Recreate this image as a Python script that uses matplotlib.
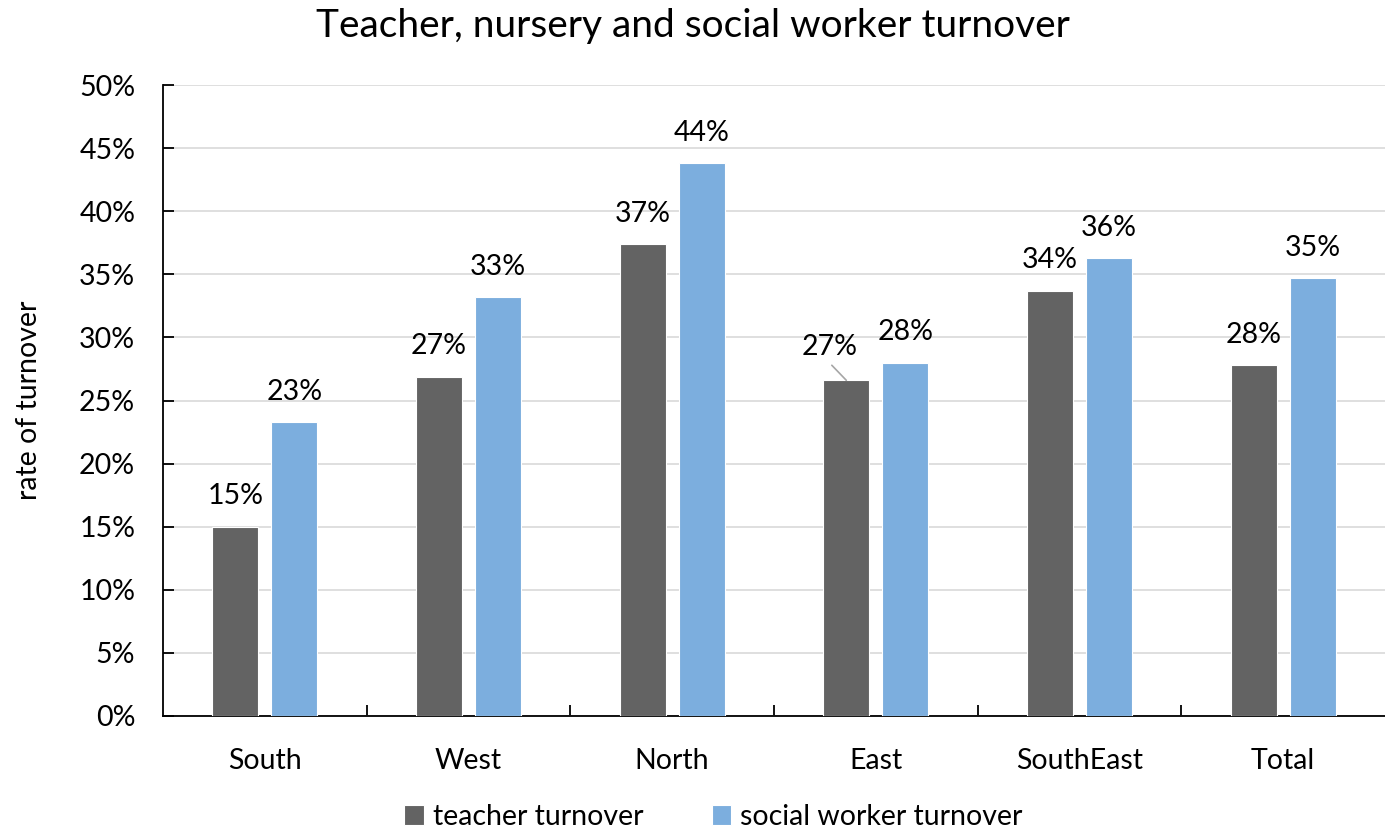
import matplotlib
matplotlib.use("Agg")
import matplotlib.pyplot as plt
import numpy as np
from matplotlib.ticker import FuncFormatter, MultipleLocator, FixedLocator

plt.rcParams['font.family'] = ['Lato', 'DejaVu Sans']

regions = ["South", "West", "North", "East", "SouthEast", "Total"]
teacher = [15.0, 26.9, 37.4, 26.6, 33.7, 27.8]
social = [23.3, 33.2, 43.8, 28.0, 36.3, 34.7]
series_names = ["teacher turnover", "social worker turnover"]
colors = ["#636363", "#7caede"]

FS = 20.5

fig = plt.figure(figsize=(13.85, 8.33), dpi=100)
ax = fig.add_axes([163 / 1385, 1 - 716 / 833, (1385 - 163) / 1385, (716 - 85) / 833])

x = np.arange(len(regions))
w = 0.226
off = 0.145
b1 = ax.bar(x - off, teacher, w, color=colors[0], edgecolor="white", linewidth=0.8,
            label=series_names[0], zorder=3)
b2 = ax.bar(x + off, social, w, color=colors[1], edgecolor="white", linewidth=0.8,
            label=series_names[1], zorder=3)

ax.set_xlim(-0.5, len(regions) - 0.5)
ax.set_ylim(0, 50)
ax.yaxis.set_major_locator(MultipleLocator(5))
ax.yaxis.set_major_formatter(FuncFormatter(lambda v, p: f"{v:.0f}%"))
ax.grid(axis="y", color="#d9d9d9", linewidth=1.2, zorder=0)
ax.set_axisbelow(True)

ax.set_xticks(x)
ax.set_xticklabels(regions)
ax.xaxis.set_minor_locator(FixedLocator(np.arange(0.5, len(regions) - 1, 1)))
ax.tick_params(axis="x", which="major", length=0, pad=23, labelsize=FS)
ax.tick_params(axis="x", which="minor", length=8, width=1.3, direction="in", color="black")
ax.tick_params(axis="y", length=8, width=1.3, direction="in", labelsize=FS, pad=20)

for s in ["top", "right"]:
    ax.spines[s].set_visible(False)
ax.spines["left"].set_linewidth(1.3)
ax.spines["bottom"].set_linewidth(1.3)

ax.set_ylabel("rate of turnover", fontsize=FS, labelpad=27)
fig.suptitle("Teacher, nursery and social worker turnover", fontsize=28, y=0.99)

# value labels above each bar
for i, (t, s) in enumerate(zip(teacher, social)):
    if regions[i] == "East":
        ax.annotate(f"{t:.0f}%", xy=(i - off, t), xytext=(i - off - 0.08, t + 2.6),
                    ha="center", va="center", fontsize=FS,
                    arrowprops=dict(arrowstyle="-", color="#a6a6a6", lw=1.2,
                                    shrinkA=2, shrinkB=0, relpos=(0.45, 0.0)))
    else:
        ax.text(i - off, t + 2.4, f"{t:.0f}%", ha="center", va="center", fontsize=FS)
    ax.text(i + off, s + 2.4, f"{s:.0f}%", ha="center", va="center", fontsize=FS)

fig.legend(handles=[b1, b2], labels=series_names, loc="lower center",
           bbox_to_anchor=(0.515, -0.027), ncol=2, frameon=False, fontsize=FS,
           handlelength=0.7, handleheight=0.7, handletextpad=0.3, columnspacing=2.4)

fig.savefig("out.png", dpi=100)
